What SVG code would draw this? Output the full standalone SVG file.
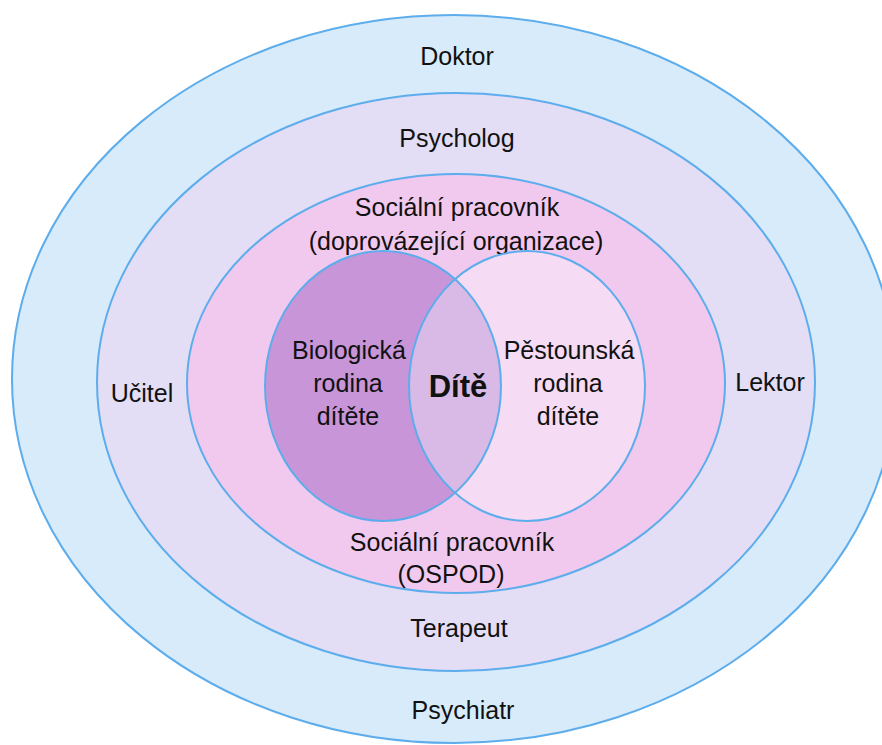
<svg xmlns="http://www.w3.org/2000/svg" width="882" height="745" viewBox="0 0 882 745">
<style>
.ring{stroke:#5DADEC;stroke-width:2}
.t{font-family:"Liberation Sans",Arial,sans-serif;font-size:25px;fill:#111;text-anchor:middle}
.b{font-weight:bold;font-size:31px}
</style>
<defs>
<clipPath id="clipR"><ellipse cx="527" cy="386" rx="118" ry="135"/></clipPath>
</defs>
<rect width="882" height="745" fill="#ffffff"/>
<g id="doktor-ring">
<ellipse class="ring" cx="454" cy="379" rx="442" ry="364" fill="#D7EBFA"/>
<text class="t" x="457" y="65">Doktor</text>
<text class="t" x="463" y="719">Psychiatr</text>
</g>
<g id="psycholog-ring">
<ellipse class="ring" cx="456" cy="382" rx="359" ry="289" fill="#E3DDF5"/>
<text class="t" x="457" y="147">Psycholog</text>
<text class="t" x="459" y="637">Terapeut</text>
<text class="t" x="142" y="402">Učitel</text>
<text class="t" x="770" y="391">Lektor</text>
</g>
<g id="socialni-ring">
<ellipse class="ring" cx="456" cy="383.5" rx="269" ry="209.5" fill="#F1C9EE"/>
<text class="t" x="457" y="216">Sociální pracovník</text>
<text class="t" x="456" y="250">(doprovázející organizace)</text>
<text class="t" x="452" y="551">Sociální pracovník</text>
<text class="t" x="451" y="583">(OSPOD)</text>
</g>
<g id="biologicka">
<ellipse cx="383" cy="386" rx="118" ry="135" fill="#C795D8"/>
</g>
<g id="pestounska">
<ellipse cx="527" cy="386" rx="118" ry="135" fill="#F5DBF4"/>
</g>
<g id="dite">
<ellipse cx="383" cy="386" rx="118" ry="135" fill="#D9B9E5" clip-path="url(#clipR)"/>
</g>
<g id="venn-outlines" fill="none">
<ellipse class="ring" cx="383" cy="386" rx="118" ry="135"/>
<ellipse class="ring" cx="527" cy="386" rx="118" ry="135"/>
</g>
<g id="venn-labels">
<text class="t" x="349" y="359">Biologická</text>
<text class="t" x="348" y="392">rodina</text>
<text class="t" x="348" y="425">dítěte</text>
<text class="t b" x="458" y="397">Dítě</text>
<text class="t" x="569" y="359">Pěstounská</text>
<text class="t" x="568" y="392">rodina</text>
<text class="t" x="568" y="425">dítěte</text>
</g>
</svg>
